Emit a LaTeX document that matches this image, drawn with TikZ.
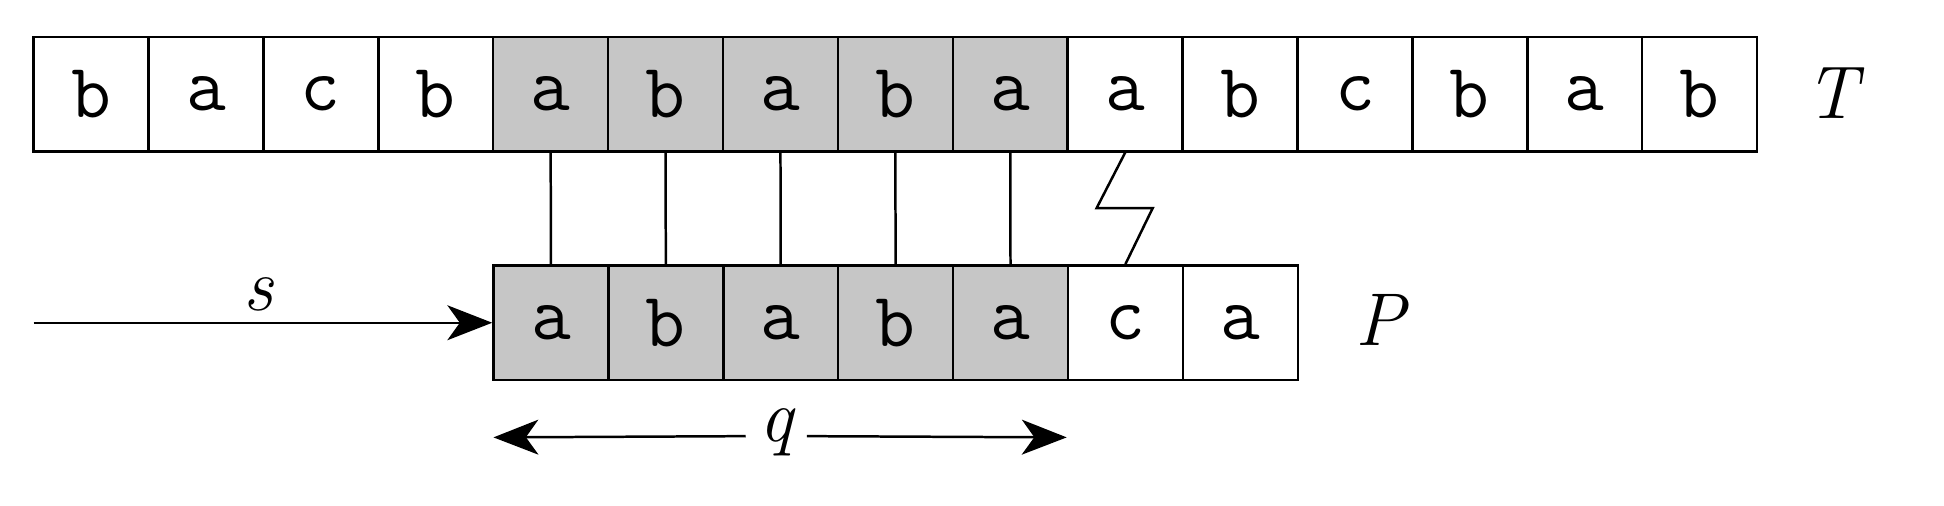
\documentclass[tikz,border=0pt]{standalone}
\usetikzlibrary{arrows.meta}
\begin{document}
\begin{tikzpicture}[x=0.5pt,y=-0.5pt,
  cell/.style={draw,line width=1pt,minimum width=46.1pt,minimum height=46pt,inner sep=0pt,font=\fontsize{31}{36}\selectfont\ttfamily},
  hit/.style={cell,fill=gray!45},
  lbl/.style={font=\fontsize{30}{36}\selectfont\itshape},
  arr/.style={line width=1pt,-{Stealth[length=18pt,width=14pt,inset=5pt]}}]
\useasboundingbox (0,0) rectangle (1560,406);
\foreach \c [count=\i from 0] in {b,a,c,b,a,b,a,b,a,a,b,c,b,a,b}{
  \pgfmathsetmacro\xx{27+92.2*\i+46.1}
  \ifnum\i>3 \ifnum\i<9
    \node[hit] (t\i) at (\xx,75.5) {\c};
  \else \node[cell] (t\i) at (\xx,75.5) {\c}; \fi
  \else \node[cell] (t\i) at (\xx,75.5) {\c}; \fi
}
\foreach \c [count=\i from 0] in {a,b,a,b,a,c,a}{
  \pgfmathsetmacro\xx{396+92.2*\i+46.1}
  \ifnum\i<5 \node[hit] (p\i) at (\xx,259) {\c};
  \else \node[cell] (p\i) at (\xx,259) {\c}; \fi
}
\foreach \i/\j in {4/0,5/1,6/2,7/3,8/4} \draw[line width=1pt] (t\i.south) -- (p\j.north);
\draw[line width=1pt] (t9.south) -- (880,167) -- (925,167) -- (p5.north);
\node[lbl] (T) at (1470,75) {T};
\node[lbl] (P) at (1108,257) {P};
\coordinate (s0) at (27,259);
\draw[arr] (s0) -- (p0.west);
\node[lbl] (s) at (207,236) {s};
\node[lbl] (q) at (623,347) {q};
\coordinate (qa) at (396,351);
\coordinate (qb) at (856,351);
\draw[arr] (q.west) ++(-4,3) -- (qa);
\draw[arr] (q.east) ++(4,3) -- (qb);
\end{tikzpicture}
\end{document}
